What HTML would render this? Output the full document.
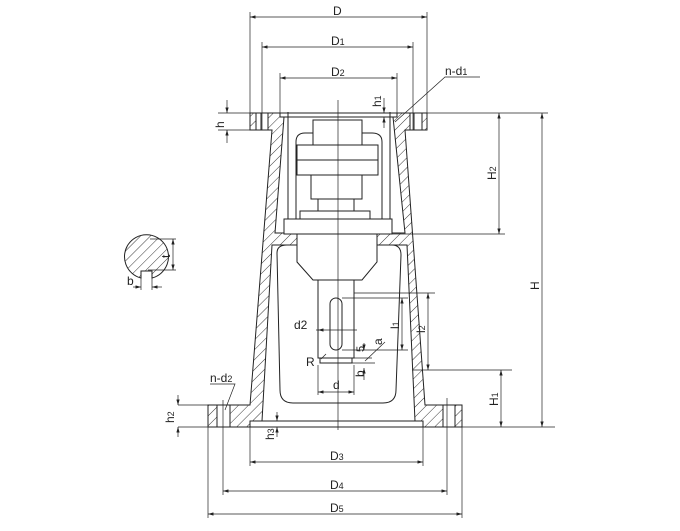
<!DOCTYPE html>
<html><head><meta charset="utf-8"><style>
html,body{margin:0;padding:0;background:#fff;}
svg{display:block}
text{font-family:"Liberation Sans",sans-serif;fill:#222;}
</style></head><body>
<svg width="680" height="531" viewBox="0 0 680 531" xmlns="http://www.w3.org/2000/svg">
<defs>
<pattern id="h" width="7" height="7" patternUnits="userSpaceOnUse" patternTransform="rotate(45)">
<rect width="7" height="7" fill="#fff"/><line x1="0" y1="0" x2="0" y2="7" stroke="#222" stroke-width="0.9"/>
</pattern>
<marker id="a" viewBox="0 0 10 6" refX="10" refY="3" markerWidth="8" markerHeight="5" orient="auto-start-reverse"><path d="M0,0L10,3L0,6z" fill="#222"/></marker>
</defs>
<g stroke="#222" stroke-width="1" fill="none">
<path d="M250,113H427V130H405L425,405H462V427H208V405H250L272,130H250Z" fill="url(#h)"/>
<path d="M284,117H393L405,233H275Z" fill="#fff"/>
<path d="M272,245H407L415,421H262Z" fill="#fff"/>
<rect x="284" y="219" width="108" height="15" fill="#fff"/>
<line x1="275" y1="233" x2="284" y2="233"/><line x1="392" y1="233" x2="405" y2="233"/>
<rect x="280" y="113" width="117" height="4" fill="#fff"/>
<rect x="256" y="113" width="12" height="17" fill="#fff"/><line x1="261" y1="113" x2="261" y2="130"/>
<rect x="410" y="113" width="12" height="17" fill="#fff"/><line x1="414" y1="113" x2="414" y2="130"/>
<rect x="217" y="405" width="13" height="22" fill="#fff"/>
<rect x="443" y="405" width="12" height="22" fill="#fff"/>
<rect x="250" y="421" width="173" height="6" fill="#fff"/>
<path d="M288,233V112M390,233V112" />
<path d="M296,230V142Q296,133 305,133H372Q382,133 382,142V230"/>
<path d="M277,253Q277,245 287,245H392Q401,245 401,255L396,390Q396,403 383,403H293Q280,403 280,390Z"/>
<rect x="313" y="120" width="49" height="25" fill="#fff"/>
<rect x="297" y="145" width="81" height="30" fill="#fff"/>
<line x1="297" y1="160" x2="378" y2="160"/>
<rect x="311" y="175" width="51" height="24" fill="#fff"/>
<rect x="318" y="199" width="36" height="12" fill="#fff"/>
<rect x="300" y="211" width="70" height="8" fill="#fff"/>
<rect x="284" y="219" width="108" height="15" fill="#fff"/>
<path d="M297,234H377V262L362,280H313L297,262Z" fill="#fff"/>
<rect x="318" y="280" width="36" height="78" fill="#fff"/>
<rect x="330" y="298" width="12" height="52" rx="6" fill="#fff"/>
<rect x="320" y="358" width="32" height="5" fill="#fff"/>
<line x1="338" y1="100" x2="338" y2="430" stroke-width="0.7"/>
</g>
<g stroke="#222" stroke-width="0.7" fill="none">
<line x1="250" y1="12" x2="250" y2="113"/><line x1="427" y1="12" x2="427" y2="113"/>
<line x1="250" y1="17" x2="427" y2="17" marker-start="url(#a)" marker-end="url(#a)"/>
<line x1="262" y1="42" x2="262" y2="130"/><line x1="413" y1="42" x2="413" y2="130"/>
<line x1="262" y1="47" x2="413" y2="47" marker-start="url(#a)" marker-end="url(#a)"/>
<line x1="280" y1="73" x2="280" y2="113"/><line x1="397" y1="73" x2="397" y2="113"/>
<line x1="280" y1="78" x2="397" y2="78" marker-start="url(#a)" marker-end="url(#a)"/>
<line x1="227" y1="100" x2="227" y2="113" marker-end="url(#a)"/><line x1="227" y1="143" x2="227" y2="130" marker-end="url(#a)"/>
<line x1="218" y1="130" x2="250" y2="130"/><line x1="218" y1="113" x2="250" y2="113"/>
<line x1="384" y1="98" x2="384" y2="113" marker-end="url(#a)"/><line x1="384" y1="128" x2="384" y2="117" marker-end="url(#a)"/>
<polyline points="395,122 445,77 480,77"/>
<line x1="427" y1="113" x2="548" y2="113"/>
<line x1="392" y1="234" x2="505" y2="234"/>
<line x1="499" y1="113" x2="499" y2="234" marker-start="url(#a)" marker-end="url(#a)"/>
<line x1="542" y1="113" x2="542" y2="427" marker-start="url(#a)" marker-end="url(#a)"/>
<line x1="462" y1="427" x2="555" y2="427"/>
<line x1="412" y1="370" x2="512" y2="370"/>
<line x1="501" y1="370" x2="501" y2="427" marker-start="url(#a)" marker-end="url(#a)"/>
<line x1="354" y1="293" x2="435" y2="293"/>
<line x1="428" y1="293" x2="428" y2="370" marker-start="url(#a)" marker-end="url(#a)"/>
<line x1="342" y1="298" x2="408" y2="298"/><line x1="342" y1="350" x2="408" y2="350"/>
<line x1="402" y1="298" x2="402" y2="350" marker-start="url(#a)" marker-end="url(#a)"/>
<line x1="316" y1="330" x2="357" y2="330"/>
<line x1="318" y1="330" x2="320" y2="330" marker-start="url(#a)"/>
<line x1="364" y1="343" x2="364" y2="350" marker-end="url(#a)"/>
<line x1="364" y1="380" x2="364" y2="368" marker-end="url(#a)"/>
<line x1="352" y1="363" x2="375" y2="363"/><line x1="352" y1="358" x2="372" y2="358"/>
<line x1="365" y1="361" x2="385" y2="342"/>
<line x1="318" y1="365" x2="318" y2="395"/><line x1="354" y1="365" x2="354" y2="395"/>
<line x1="318" y1="392" x2="354" y2="392" marker-start="url(#a)" marker-end="url(#a)"/>
<line x1="321" y1="359" x2="326" y2="354"/>
<line x1="178" y1="405" x2="208" y2="405"/><line x1="178" y1="427" x2="208" y2="427"/>
<line x1="178" y1="395" x2="178" y2="405" marker-end="url(#a)"/><line x1="178" y1="437" x2="178" y2="427" marker-end="url(#a)"/>
<line x1="277" y1="412" x2="277" y2="421" marker-end="url(#a)"/><line x1="277" y1="437" x2="277" y2="427" marker-end="url(#a)"/>
<polyline points="210,384 235,384 225,410"/>
<line x1="250" y1="427" x2="250" y2="466"/><line x1="423" y1="427" x2="423" y2="466"/>
<line x1="250" y1="462" x2="423" y2="462" marker-start="url(#a)" marker-end="url(#a)"/>
<line x1="223" y1="400" x2="223" y2="495"/><line x1="447" y1="398" x2="447" y2="495"/>
<line x1="223" y1="491" x2="447" y2="491" marker-start="url(#a)" marker-end="url(#a)"/>
<line x1="208" y1="427" x2="208" y2="518"/><line x1="462" y1="427" x2="462" y2="518"/>
<line x1="208" y1="514" x2="462" y2="514" marker-start="url(#a)" marker-end="url(#a)"/>
</g>
<g stroke="#222" stroke-width="1">
<path d="M141,278A22,22 0 1 1 152,278V271H141Z" fill="url(#h)"/>
<g stroke-width="0.7" fill="none">
<line x1="150" y1="239" x2="176" y2="239"/><line x1="148" y1="270" x2="176" y2="270"/>
<line x1="173" y1="239" x2="173" y2="270" marker-start="url(#a)" marker-end="url(#a)"/>
<line x1="141" y1="278" x2="141" y2="290"/><line x1="152" y1="278" x2="152" y2="290"/>
<line x1="133" y1="287" x2="141" y2="287" marker-end="url(#a)"/><line x1="162" y1="287" x2="152" y2="287" marker-end="url(#a)"/>
</g></g>
<g font-size="12">
<text x="333" y="15">D</text>
<text x="331" y="45">D<tspan font-size="9">1</tspan></text>
<text x="331" y="76">D<tspan font-size="9">2</tspan></text>
<text x="445" y="75">n-d<tspan font-size="9">1</tspan></text>
<text x="330" y="460">D<tspan font-size="9">3</tspan></text>
<text x="330" y="489">D<tspan font-size="9">4</tspan></text>
<text x="330" y="512">D<tspan font-size="9">5</tspan></text>
<text x="210" y="382">n-d<tspan font-size="9">2</tspan></text>
<text x="294" y="329">d2</text>
<text x="306" y="366">R</text>
<text x="333" y="389">d</text>
<text x="127" y="285">b</text>
<text transform="translate(224,128) rotate(-90)">h</text>
<text transform="translate(381,107) rotate(-90)">h<tspan font-size="9">1</tspan></text>
<text transform="translate(496,180) rotate(-90)">H<tspan font-size="9">2</tspan></text>
<text transform="translate(539,290) rotate(-90)">H</text>
<text transform="translate(498,406) rotate(-90)">H<tspan font-size="9">1</tspan></text>
<text transform="translate(174,423) rotate(-90)">h<tspan font-size="9">2</tspan></text>
<text transform="translate(274,440) rotate(-90)">h<tspan font-size="9">3</tspan></text>
<text transform="translate(170,258) rotate(-90)">t</text>
<text transform="translate(399,329) rotate(-90)">l<tspan font-size="9">1</tspan></text>
<text transform="translate(425,333) rotate(-90)">l<tspan font-size="9">2</tspan></text>
<text transform="translate(382,345) rotate(-90)">a</text>
<text transform="translate(364,352) rotate(-90)" font-size="11">5</text>
<text transform="translate(364,377) rotate(-90)">b</text>
</g>
</svg>
</body></html>
